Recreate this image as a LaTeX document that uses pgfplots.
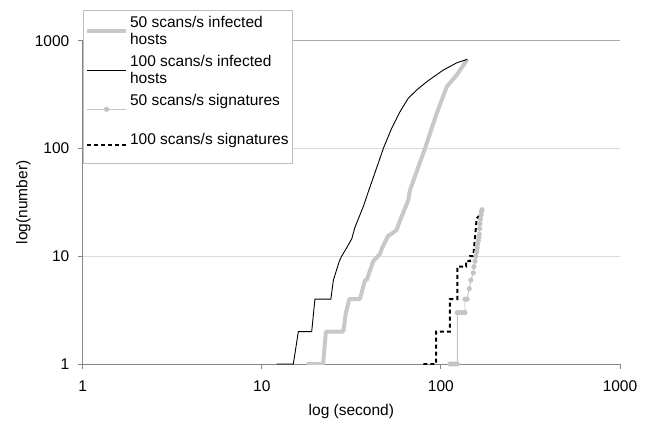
\documentclass[border=0pt]{standalone}
\usepackage{fontspec}
\setmainfont{Liberation Sans}
\usepackage{pgfplots}
\pgfplotsset{compat=1.18}
\definecolor{thickgray}{RGB}{200,200,200}
\definecolor{siggray}{RGB}{196,196,196}
\definecolor{gridgray}{RGB}{220,220,220}
\definecolor{axisgray}{RGB}{134,134,134}
\definecolor{framegray}{RGB}{170,170,170}
\definecolor{legendgray}{RGB}{190,190,190}
\begin{document}
\begin{tikzpicture}
\path[use as bounding box] (-82.7bp,-59bp) rectangle (564.3bp,364bp);
\begin{axis}[
  at={(0,0)}, anchor=south west, scale only axis,
  width=537.3bp, height=323.3bp,
  xmode=log, ymode=log,
  xmin=1, xmax=1000, ymin=1, ymax=1000,
  xtick={1,10,100,1000}, xticklabels={1,10,100,1000},
  ytick={1,10,100,1000}, yticklabels={1,10,100,1000},
  minor xtick={}, minor ytick={}, minor tick length=0pt,
  tick align=outside, major tick length=5bp,
  tick style={axisgray, line width=0.8bp},
  axis x line*=bottom, axis y line*=left,
  axis line style={axisgray, line width=0.8bp},
  ymajorgrids, major grid style={gridgray, line width=0.9bp},
  /pgf/number format/assume math mode=true,
  font=\fontsize{15.5bp}{17bp}\selectfont,
  ticklabel style={font=\fontsize{15.5bp}{17bp}\selectfont},
  xticklabel style={anchor=center, yshift=-17.5bp},
  yticklabel style={anchor=east, inner sep=0pt, xshift=-8.2bp},
  xlabel={log (second)}, ylabel={log(number)},
  xlabel style={at={(axis description cs:0.5,-0.1475)}, anchor=center},
  ylabel style={at={(axis description cs:-0.1102,0.5)}, anchor=center},
  legend style={at={(0,1)}, anchor=north west, yshift=30.7bp,
    draw=legendgray, line width=0.8bp, fill=white,
    font=\fontsize{15.5bp}{17bp}\selectfont,
    cells={anchor=west, align=left}, row sep=5.3bp, inner xsep=2bp, inner ysep=4bp},
  legend cell align=left,
  legend image code/.code={\draw[mark repeat=2,mark phase=2,#1] plot coordinates {(0bp,0bp) (19.5bp,0bp) (39bp,0bp)};},
]
\draw[framegray, line width=0.9bp] (rel axis cs:0,1) -- (rel axis cs:1,1);
\draw[legendgray, line width=0.9bp] (rel axis cs:1,1) -- (rel axis cs:1,0);
\addplot[thickgray, line width=4bp, line join=round, no marks] coordinates {
(17.8,1)(22.0,1)(22.8,2)(28.5,2)(29.5,3)(30.8,4)(35.3,4)(37.7,6)(38.5,6)(41.9,9)(45.7,10.5)(47,12)(50.8,15.5)(53.5,16.3)(56.5,17.5)(59.5,22)(65.7,33)(67.2,41)(81.5,100)(94.8,212)(107.7,373)(122.5,480)(140.4,671)
};
\addlegendentry{50 scans/s infected\\hosts}
\addplot[black, line width=0.9bp, no marks] coordinates {
(12.1,1)(15.0,1)(16.0,2)(19.0,2)(19.8,4)(24.3,4)(25.1,6)(27.1,9)(27.9,10)(29.8,12)(31.8,14.5)(33.1,18.5)(36.9,29)(40.2,44)(44.7,73)(47.7,100)(53.1,154)(59.1,219)(65.7,292)(73.2,348)(83.3,416)(103.1,534)(122.5,623)(140.4,671)
};
\addlegendentry{100 scans/s infected\\hosts}
\addplot[siggray, line width=0.9bp, mark=*, mark size=2.1bp, mark options={fill=siggray, draw=siggray}] coordinates {
(112.4,1)(116,1)(120,1)(123.5,1)(123.5,3)(127,3)(131,3)(136.3,3)(136.3,4)(140,4)(144,5)(147,6)(151.7,7)(153,8)(155,9)(157,10)(158.5,11)(159.5,12)(160.6,13)(162,14)(163,15)(163.8,16)(164.5,18)(165.3,20)(166.2,22)(167.5,24)(168.5,26)(169.6,27)
};
\addlegendentry{50 scans/s signatures\\\mbox{}}
\addplot[black, line width=2bp, dash pattern=on 4bp off 3bp, no marks] coordinates {
(79.8,1)(93.9,1)(93.9,2)(112.4,2)(112.4,4)(123.5,4)(123.5,8)(138.1,8)(138.1,9)(145.4,9)(145.4,10)(151.7,10)(158.5,22.5)(165.3,24)
};
\addlegendentry{100 scans/s signatures\\[-6bp]\mbox{}}
\end{axis}
\end{tikzpicture}
\end{document}
